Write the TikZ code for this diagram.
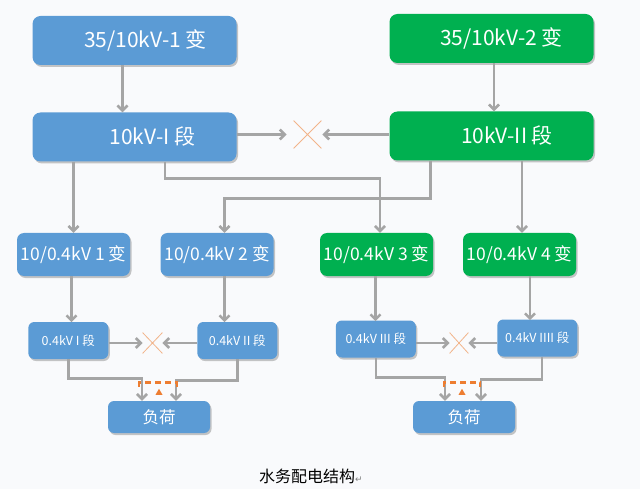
\documentclass[tikz,border=0pt]{standalone}
\usepackage{fontspec}
\setmainfont{Noto Sans CJK SC}
\newfontfamily\symfont{DejaVu Sans}
\usepackage{tikz}
\usetikzlibrary{shapes.misc, arrows.meta, shadows}
\definecolor{boxblue}{HTML}{5B9BD5}
\definecolor{boxgreen}{HTML}{00B050}
\definecolor{linegray}{HTML}{A5A5A5}
\definecolor{tieorange}{HTML}{ED7D31}
\definecolor{crossorange}{HTML}{F2B48A}
\definecolor{bggray}{HTML}{F9FAFC}
\tikzstyle{boxshadow} = [drop shadow={shadow xshift=1.5pt, shadow yshift=-2pt, fill=black, opacity=0.22}]
\tikzstyle{bus} = [rectangle, rounded corners=8pt, minimum width=204pt, minimum height=49pt, text=white, fill=boxblue, boxshadow, font=\fontsize{21}{21}\selectfont]
\tikzstyle{xfmr} = [rectangle, rounded corners=7pt, minimum width=113pt, minimum height=43pt, inner sep=1pt, text=white, fill=boxblue, boxshadow, font=\fontsize{17.5}{17.5}\selectfont]
\tikzstyle{lvbus} = [rectangle, rounded corners=6pt, minimum width=80pt, minimum height=37pt, inner sep=1pt, text=white, fill=boxblue, boxshadow, font=\fontsize{12.5}{12.5}\selectfont]
\tikzstyle{load} = [rectangle, rounded corners=6pt, minimum width=102pt, minimum height=32pt, text=white, fill=boxblue, boxshadow, font=\fontsize{16.5}{16.5}\selectfont]
\tikzstyle{green} = [fill=boxgreen]
\tikzstyle{crossmark} = [cross out, draw=crossorange, line width=0.8pt, inner sep=0pt]
\tikzstyle{arrow} = [line width=2.6pt, draw=linegray, -{Straight Barb[length=5pt,width=10pt]}]
\tikzstyle{tie} = [line width=2.8pt, draw=tieorange, dash pattern=on 6pt off 4pt]

\begin{document}
\begin{tikzpicture}[x=1pt, y=-1pt, node distance=100pt]
  \fill[bggray] (0,0) rectangle (640,489);
  \node (t1) [bus] at (134.5,40.5) {\hspace*{22pt}35/10kV-1 变};
  \node (b1) [bus, below of=t1, yshift=3.5pt] {\hspace*{36pt}10kV-I 段};
  \node (t2) [bus, green, right of=t1, xshift=257pt, yshift=2pt] {\hspace*{20pt}35/10kV-2 变};
  \node (b2) [bus, green, below of=t2, yshift=2.5pt] {\hspace*{31pt}10kV-II 段};
  \node (r1) [xfmr, below of=b1, xshift=-61pt, yshift=-17.5pt] {10/0.4kV 1 变};
  \node (r2) [xfmr, right of=r1, xshift=43.5pt] {10/0.4kV 2 变};
  \node (r3) [xfmr, green, right of=r2, xshift=59.5pt] {10/0.4kV 3 变};
  \node (r4) [xfmr, green, right of=r3, xshift=43pt] {10/0.4kV 4 变};
  \node (s1) [lvbus, below of=r1, xshift=-5.2pt, yshift=14pt] {0.4kV I 段};
  \node (s2) [lvbus, right of=s1, xshift=69pt] {0.4kV II 段};
  \node (s3) [lvbus, right of=s2, xshift=38.5pt, yshift=1.5pt] {0.4kV III 段};
  \node (s4) [lvbus, right of=s3, xshift=61.5pt, yshift=1pt] {0.4kV IIII 段};
  \node (L1) [load, below of=s1, xshift=90.7pt, yshift=23.5pt] {负荷};
  \node (L2) [load, right of=L1, xshift=205pt] {负荷};
  \node (x1) [crossmark, minimum width=27pt, minimum height=27pt, right of=b1, xshift=73pt, yshift=2.5pt] {};
  \node (x2) [crossmark, minimum width=19pt, minimum height=20pt, right of=s1, xshift=-15.8pt, yshift=-2.5pt] {};
  \node (x3) [crossmark, minimum width=18pt, minimum height=20pt, right of=s3, xshift=-16.8pt, yshift=-4pt] {};
  \node (caption) at (311,476) {\fontsize{16}{16}\selectfont 水务配电结构{\symfont\fontsize{9}{9}\selectfont\color{gray}↵}};
  \draw[arrow] ([xshift=-12pt]t1.south) -- ([xshift=-12pt]b1.north);
  \draw[arrow] ([xshift=2.5pt]t2.south) -- ([xshift=2.5pt]b2.north);
  \draw[arrow] (b1.east |- x1) -- ([xshift=-7pt]x1.west);
  \draw[arrow] (b2.west |- x1) -- ([xshift=1pt]x1.east);
  \draw[arrow] (b1.south -| r1) -- (r1.north);
  \draw[arrow] ([xshift=30.5pt]b1.south) -- ++(0,17) -| ([xshift=3.5pt]r3.north);
  \draw[arrow] ([xshift=-61pt]b2.south) -- ++(0,38) -| ([xshift=7.5pt]r2.north);
  \draw[arrow] ([xshift=30.5pt]b2.south) -- ([xshift=2.5pt]r4.north);
  \draw[arrow] ([xshift=-2pt]r1.south) -- ++(0,46);
  \draw[arrow] ([xshift=7.5pt]r2.south) -- ++(0,46);
  \draw[arrow] ([xshift=-1pt]r3.south) -- ++(0,45);
  \draw[arrow] ([xshift=10.5pt]r4.south) -- ++(0,44);
  \draw[arrow] (s1.east |- x2) -- (x2.west);
  \draw[arrow] (s2.west |- x2) -- (x2.east);
  \draw[arrow] (s3.east |- x3) -- (x3.west);
  \draw[arrow] (s4.west |- x3) -- (x3.east);
  \draw[arrow] (s1.south) -- ++(0,19) -| ([xshift=-17pt]L1.north);
  \draw[arrow] (s2.south) -- ++(0,21) -| ([xshift=17pt]L1.north);
  \draw[arrow] (s3.south) -- ++(0,20) -| ([xshift=-19pt]L2.north);
  \draw[arrow] ([xshift=4.7pt]s4.south) -- ++(0,23) -| ([xshift=17pt]L2.north);
  \draw[tie] ([xshift=-20pt, yshift=14pt]L1.north) -- ++(0,-4) -- ++(38,0) -- ++(0,4);
  \draw[tie] ([xshift=-20pt, yshift=14pt]L2.north) -- ++(0,-4) -- ++(36,0) -- ++(0,4);
  \fill[tieorange] ([yshift=12pt]L1.north) -- ++(-3.5,6) -- ++(7,0) -- cycle;
  \fill[tieorange] ([xshift=-2pt, yshift=12pt]L2.north) -- ++(-3.5,6) -- ++(7,0) -- cycle;
\end{tikzpicture}
\end{document}
